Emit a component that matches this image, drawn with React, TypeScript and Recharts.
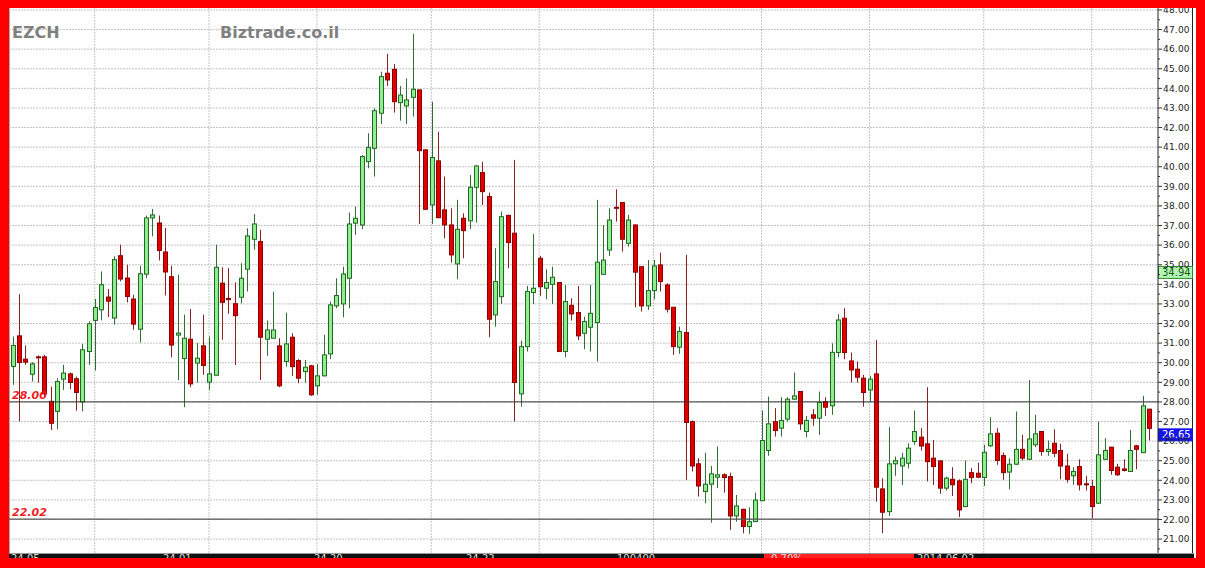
import React from 'react';
import { ComposedChart, Bar, XAxis, YAxis, CartesianGrid, ReferenceLine } from 'recharts';

// daily EZCH candles
const openPx = [
  29.81, 31.37, 30.18, 29.41, 30.30, 30.30, 28.03, 27.52, 29.16, 29.43,
  29.18, 28.00, 30.57, 32.16, 32.70, 33.35, 32.28, 35.46, 34.32, 33.25,
  31.71, 34.52, 37.39, 37.13, 35.65, 34.39, 31.41, 30.21, 31.20, 29.98,
  30.86, 29.01, 29.36, 34.06, 33.28, 33.01, 33.34, 34.77, 36.30, 36.18,
  31.20, 31.25, 30.86, 30.06, 31.30, 30.11, 29.55, 29.84, 28.82, 29.33,
  30.45, 32.90, 33.00, 34.31, 37.12, 37.03, 40.26, 40.94, 42.73, 44.77,
  44.97, 43.27, 43.10, 43.54, 43.92, 40.86, 38.05, 40.30, 37.80, 37.03,
  35.04, 37.37, 37.24, 38.95, 39.70, 38.48, 32.44, 33.37, 37.52, 36.61,
  28.41, 30.82, 33.58, 35.33, 33.80, 34.00, 34.09, 30.57, 32.93, 32.56,
  31.50, 31.81, 32.05, 34.51, 35.75, 37.93, 38.17, 36.09, 37.03, 34.90,
  32.90, 33.68, 34.99, 33.97, 32.83, 30.79, 31.54, 27.00, 24.84, 23.43,
  23.80, 24.16, 24.28, 24.19, 22.18, 22.52, 21.64, 21.89, 22.96, 25.52,
  26.99, 26.66, 27.12, 28.14, 28.53, 26.49, 27.34, 27.17, 28.02, 27.80,
  30.52, 32.27, 30.09, 29.67, 29.21, 28.61, 29.43, 23.56, 22.40, 24.84,
  24.73, 24.87, 25.98, 26.20, 25.86, 25.13, 24.99, 23.60, 24.05, 23.97,
  22.66, 24.39, 24.36, 24.14, 25.76, 26.40, 25.26, 24.42, 24.82, 25.58,
  25.07, 25.81, 26.49, 25.47, 25.89, 25.52, 24.73, 24.23, 24.70, 23.82,
  23.68, 22.83, 25.07, 25.69, 24.67, 24.58, 24.45, 25.76, 25.41, 27.63,
];
const highPx = [
  31.34, 33.50, 30.88, 30.03, 30.37, 30.40, 28.78, 29.21, 29.89, 29.50,
  29.29, 30.96, 32.11, 33.25, 34.66, 33.76, 35.43, 36.02, 35.00, 33.47,
  34.95, 37.51, 37.85, 37.51, 36.88, 34.95, 34.49, 32.45, 32.74, 31.00,
  32.45, 31.34, 36.02, 34.87, 34.83, 34.10, 35.08, 36.86, 37.59, 36.78,
  32.15, 33.63, 31.25, 32.56, 31.50, 30.18, 30.14, 29.89, 29.94, 31.42,
  33.12, 34.31, 34.90, 37.66, 37.97, 40.60, 41.71, 42.98, 44.85, 45.76,
  45.24, 44.12, 44.51, 46.78, 43.95, 40.90, 43.32, 41.79, 39.50, 37.88,
  38.31, 37.63, 39.58, 40.09, 40.25, 38.68, 35.84, 37.71, 37.55, 40.35,
  31.13, 33.92, 36.57, 35.45, 34.77, 34.90, 34.12, 33.97, 33.29, 33.92,
  32.35, 33.97, 38.31, 37.03, 37.88, 38.85, 38.20, 37.54, 37.05, 34.92,
  35.24, 35.24, 35.62, 34.05, 32.85, 31.84, 35.50, 27.05, 25.13, 25.41,
  24.73, 25.72, 24.36, 24.39, 23.25, 22.55, 22.62, 23.37, 27.56, 28.27,
  27.68, 28.24, 28.24, 29.50, 28.55, 27.29, 27.63, 28.53, 28.24, 30.99,
  32.49, 32.78, 30.52, 30.06, 29.38, 29.33, 31.16, 24.10, 26.71, 25.21,
  25.41, 25.89, 27.56, 26.66, 28.75, 26.06, 25.01, 24.19, 24.67, 24.05,
  25.01, 24.62, 24.90, 25.81, 27.22, 26.66, 25.42, 25.13, 27.51, 26.32,
  29.12, 27.34, 26.51, 26.03, 26.61, 25.86, 25.35, 24.67, 25.07, 24.23,
  24.02, 26.99, 26.15, 25.71, 24.84, 25.07, 26.57, 25.81, 28.31, 27.65,
];
const lowPx = [
  28.87, 27.01, 29.89, 29.04, 28.99, 28.27, 26.57, 26.60, 28.61, 28.65,
  27.56, 27.52, 29.89, 29.60, 32.16, 32.33, 31.94, 34.15, 33.08, 31.68,
  31.03, 34.32, 36.45, 35.22, 33.43, 30.27, 29.12, 27.73, 28.75, 28.99,
  29.38, 28.61, 29.36, 31.17, 32.50, 29.88, 33.03, 33.63, 35.76, 29.12,
  30.35, 31.25, 28.75, 29.80, 29.33, 28.95, 28.99, 28.31, 28.36, 29.30,
  30.18, 32.78, 32.32, 32.78, 36.52, 36.81, 39.92, 39.50, 42.18, 44.12,
  42.76, 42.35, 42.18, 42.56, 37.08, 37.80, 37.08, 37.37, 36.35, 35.11,
  34.26, 35.33, 36.83, 37.15, 38.05, 31.30, 31.84, 33.00, 34.82, 27.00,
  27.76, 30.57, 33.00, 33.41, 33.24, 33.00, 30.55, 30.28, 32.15, 31.16,
  30.69, 30.57, 30.06, 34.48, 35.45, 37.20, 35.67, 35.92, 32.83, 32.61,
  32.69, 33.24, 33.63, 32.56, 30.40, 30.45, 24.02, 24.45, 23.17, 22.83,
  21.84, 23.60, 23.37, 21.47, 21.89, 21.30, 21.27, 21.87, 22.94, 25.25,
  26.23, 26.23, 26.99, 28.12, 26.57, 26.20, 26.78, 26.32, 27.29, 27.34,
  30.28, 30.18, 28.99, 28.99, 27.76, 28.02, 22.91, 21.30, 22.18, 24.23,
  23.76, 24.61, 25.81, 25.52, 23.94, 23.77, 23.31, 23.48, 23.20, 22.12,
  22.63, 23.85, 24.11, 23.71, 25.69, 24.79, 24.02, 23.54, 24.79, 25.01,
  25.04, 25.69, 25.25, 25.25, 25.18, 24.05, 23.88, 23.77, 23.48, 23.48,
  22.07, 22.81, 25.05, 24.28, 24.23, 24.45, 24.43, 24.56, 25.39, 26.03,
];
const closePx = [
  30.88, 30.01, 30.03, 29.94, 30.25, 28.41, 26.91, 29.04, 29.47, 28.99,
  28.48, 30.66, 31.99, 32.82, 33.98, 33.14, 35.26, 34.27, 33.38, 31.97,
  34.54, 37.39, 37.54, 35.73, 34.63, 30.90, 31.51, 31.25, 28.92, 30.23,
  29.86, 29.43, 34.87, 33.08, 33.22, 32.40, 34.31, 36.47, 37.08, 31.30,
  31.67, 31.67, 28.82, 30.96, 29.80, 29.21, 29.77, 28.36, 29.33, 30.40,
  32.95, 33.43, 34.53, 37.08, 37.37, 40.52, 40.99, 42.86, 44.60, 44.43,
  43.32, 43.66, 43.41, 43.95, 40.82, 37.83, 40.47, 37.40, 37.03, 35.50,
  36.81, 36.74, 38.95, 40.04, 38.73, 32.22, 34.14, 37.45, 36.13, 28.99,
  30.82, 33.63, 33.80, 33.88, 34.09, 34.36, 30.57, 33.12, 32.49, 31.37,
  32.10, 32.52, 35.13, 35.24, 37.28, 37.88, 36.30, 37.28, 34.62, 32.90,
  33.68, 34.94, 34.14, 32.73, 30.82, 31.59, 26.95, 24.73, 23.71, 23.80,
  24.33, 24.28, 24.14, 22.18, 22.69, 21.64, 21.89, 22.99, 26.03, 26.88,
  26.54, 27.05, 28.14, 28.31, 26.88, 27.05, 27.17, 27.97, 27.73, 30.53,
  32.18, 30.52, 29.63, 29.26, 28.48, 29.16, 23.65, 22.37, 24.84, 25.00,
  25.13, 25.64, 26.49, 25.75, 24.95, 24.70, 23.60, 24.11, 23.77, 22.49,
  24.05, 24.14, 24.16, 25.43, 26.37, 25.01, 24.39, 24.82, 25.58, 25.13,
  26.11, 26.37, 25.47, 25.58, 25.38, 24.73, 24.05, 24.45, 23.77, 23.80,
  22.66, 25.30, 25.52, 24.50, 24.28, 24.50, 25.52, 25.58, 27.80, 26.65,
];

const priceTicks = [
  20.5, 21, 21.5, 22, 22.5, 23, 23.5, 24, 24.5, 25, 25.5, 26, 26.5, 27, 27.5, 28,
  28.5, 29, 29.5, 30, 30.5, 31, 31.5, 32, 32.5, 33, 33.5, 34, 34.5, 35, 35.5, 36,
  36.5, 37, 37.5, 38, 38.5, 39, 39.5, 40, 40.5, 41, 41.5, 42, 42.5, 43, 43.5, 44,
  44.5, 45, 45.5, 46, 46.5, 47, 47.5, 48,
];
const gridPrices = [
  21, 22, 23, 24, 25, 26, 27, 28, 29, 30, 31, 32, 33, 34, 35, 36, 37, 38, 39, 40,
  41, 42, 43, 44, 45, 46, 47, 48,
];
// candle index where each month starts
const monthStarts = [13, 31, 48, 66, 83, 101, 118, 135, 153, 170];
const levelLines = [28.0, 22.02];
const lastPrice = 26.65;
const markerPrice = 34.94;
const footerLabels = ['24.05', '24.01', '24.20', '24.22', '100400', '0.70%', '2014.06.02'];

const rows = openPx.map((o, i) => ({
  i,
  open: o,
  high: highPx[i],
  low: lowPx[i],
  close: closePx[i],
  range: [lowPx[i], highPx[i]],
}));

const FONT = '"DejaVu Sans", Verdana, sans-serif';

const Candle = (props: any) => {
  const { x, y, width, height, payload } = props;
  if (!payload || y == null) return null;
  const { open, close, high, low } = payload;
  const top = Math.min(y, y + height);
  const h = Math.abs(height);
  const k = high > low ? h / (high - low) : 0;
  const up = close >= open;
  const cx = Math.round(x + width / 2) + 0.5;
  const bTop = top + (high - Math.max(open, close)) * k;
  const bBot = top + (high - Math.min(open, close)) * k;
  return (
    <g>
      <line x1={cx} x2={cx} y1={top} y2={top + h} stroke={up ? '#2f6f2f' : '#8a2020'} strokeWidth={1} />
      <rect
        x={cx - 2}
        y={bTop}
        width={4}
        height={Math.max(bBot - bTop, 1)}
        fill={up ? '#90ec90' : '#e00000'}
        stroke={up ? '#1f6a1f' : '#8a0000'}
        strokeWidth={1}
      />
    </g>
  );
};

const PriceTick = (props: any) => {
  const { x, y, payload } = props;
  const v = payload.value;
  const major = Number.isInteger(v);
  return (
    <g>
      <line x1={x} x2={x + (major ? 4 : 2)} y1={y} y2={y} stroke="#333" />
      {major && (
        <text x={x + 5} y={y + 3.3} fontSize={9} letterSpacing={0.2} fill="#222" fontFamily={FONT}>
          {v.toFixed(2)}
        </text>
      )}
    </g>
  );
};

const LevelLabel = (props: any) => {
  const { viewBox, value } = props;
  return (
    <text x={viewBox.x + 3} y={viewBox.y - 3} fontSize={11} fontWeight="bold" fontStyle="italic" fill="#ee1c24" fontFamily={FONT}>
      {value}
    </text>
  );
};

const PriceTag = (props: any) => {
  const { viewBox, value, fill, stroke, color } = props;
  const left = viewBox.x + viewBox.width;
  return (
    <g>
      <rect x={left + 0.5} y={viewBox.y + 0.5} width={34} height={12} fill={fill} stroke={stroke} />
      <text x={left + 4} y={viewBox.y + 10} fontSize={10} fill={color} fontFamily={FONT}>
        {value}
      </text>
    </g>
  );
};

export default function App() {
  return (
    <div style={{ position: 'absolute', left: 0, top: 0, width: 1205, height: 568, background: '#ff0000', overflow: 'hidden' }}>
      <div style={{ position: 'absolute', left: 9, top: 8, width: 1187, height: 550, background: '#fff' }} />
      <div style={{ position: 'absolute', left: 9, top: 8, width: 1184, height: 545, borderLeft: '1px solid #aaa', borderRight: '1px solid #222', boxSizing: 'border-box' }} />
      <div style={{ position: 'absolute', left: 0, top: 0 }}>
        <ComposedChart width={1205} height={568} data={rows} margin={{ top: 8, right: 12, bottom: 15, left: 9 }}>
          <CartesianGrid
            horizontalValues={gridPrices}
            verticalValues={monthStarts}
            stroke="#c4c4c4"
            strokeDasharray="2 1"
          />
          <XAxis dataKey="i" type="category" hide padding={{ left: 0, right: 6 }} />
          <YAxis
            orientation="right"
            width={35}
            domain={[20.29, 48.1]}
            ticks={priceTicks}
            interval={0}
            tickSize={0}
            tickMargin={0}
            tickLine={false}
            axisLine={{ stroke: '#222' }}
            tick={<PriceTick />}
            allowDataOverflow
          />
          <Bar dataKey="range" shape={<Candle />} barSize={5} isAnimationActive={false} />
          {levelLines.map((lv, idx) => (
            <ReferenceLine
              key={lv}
              y={lv}
              stroke={idx === 0 ? '#333' : '#555'}
              strokeWidth={idx === 0 ? 1 : 1.4}
              label={<LevelLabel value={lv.toFixed(2)} />}
            />
          ))}
          <ReferenceLine y={markerPrice} stroke="none" label={<PriceTag value={markerPrice.toFixed(2)} fill="#b4f7b4" stroke="#2a8a2a" color="#1a5a1a" />} />
          <ReferenceLine y={lastPrice} stroke="none" label={<PriceTag value={lastPrice.toFixed(2)} fill="#1414ee" stroke="#1414ee" color="#ffffff" />} />
        </ComposedChart>
      </div>
      <div style={{ position: 'absolute', left: 12, top: 25, font: `bold 16px ${FONT}`, lineHeight: '16px', color: '#808080' }}>EZCH</div>
      <div style={{ position: 'absolute', left: 220, top: 25, font: `bold 16px ${FONT}`, lineHeight: '16px', color: '#808080' }}>Biztrade.co.il</div>
      <div style={{ position: 'absolute', left: 9, top: 553, width: 1185, height: 5, background: '#111', borderTop: '1px solid #999', boxSizing: 'border-box', overflow: 'hidden' }}>
        <div style={{ position: 'absolute', left: 755, top: 0, width: 150, height: 5, background: '#ff2020' }} />
        {footerLabels.map((t, idx) => (
          <span
            key={t}
            style={{ position: 'absolute', left: [2, 154, 305, 457, 608, 762, 908][idx], top: 0, font: `10px ${FONT}`, lineHeight: '10px', color: '#ddd', whiteSpace: 'nowrap' }}
          >
            {t}
          </span>
        ))}
      </div>
      <div style={{ position: 'absolute', left: 0, top: 0, width: 1205, height: 8, background: '#ff0000' }} />
    </div>
  );
}
